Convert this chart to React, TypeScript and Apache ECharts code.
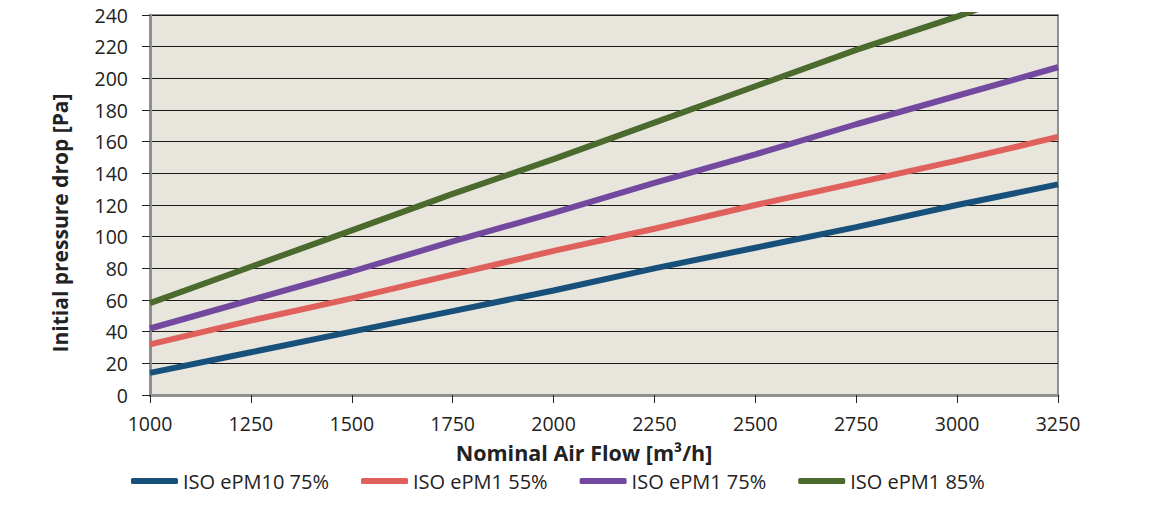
import React, { useEffect, useRef } from "react";
import * as echarts from "echarts";

const airFlow = [1000, 1250, 1500, 1750, 2000, 2250, 2500, 2750, 3000, 3250];
const ePM10_75 = [14, 27, 40, 53, 66, 80, 93, 106, 120, 133];
const ePM1_55 = [32, 47, 61, 76, 91, 105, 120, 134, 148, 163];
const ePM1_75 = [42, 60, 78, 97, 115, 134, 152, 171, 189, 207];
const ePM1_85 = [58, 81, 104, 127, 149, 172, 195, 218, 239, 262];
const seriesNames = ["ISO ePM10 75%", "ISO ePM1 55%", "ISO ePM1 75%", "ISO ePM1 85%"];
const seriesColors = ["#17507a", "#e0605c", "#7349a0", "#4b6a2e"];

const FONT = "'Open Sans', 'Liberation Sans', sans-serif";

export default function App() {
  const ref = useRef<HTMLDivElement>(null);
  useEffect(() => {
    if (!ref.current) return;
    const chart = echarts.init(ref.current, undefined, { renderer: "svg" });
    const datasets = [ePM10_75, ePM1_55, ePM1_75, ePM1_85];
    chart.setOption({
      animation: false,
      backgroundColor: "#ffffff",
      grid: {
        left: 150,
        right: 94,
        top: 15,
        bottom: 115,
        show: true,
        backgroundColor: "#e8e6dc",
        borderColor: "#8f8f8f",
        borderWidth: 2,
      },
      legend: {
        bottom: 14,
        left: 126,
        icon: "roundRect",
        itemWidth: 47,
        itemHeight: 6,
        itemGap: 32,
        textStyle: { fontFamily: FONT, fontSize: 20, color: "#222" },
        data: seriesNames,
      },
      xAxis: {
        type: "value",
        min: 1000,
        max: 3250,
        interval: 250,
        name: "Nominal Air Flow [m³/h]",
        nameLocation: "middle",
        nameGap: 46,
        nameTextStyle: {
          fontFamily: FONT,
          fontSize: 21.5,
          fontWeight: "bold",
          color: "#222",
          padding: [0, 40, 0, 0],
        },
        axisLine: { show: true, lineStyle: { color: "#8f8f8f", width: 3 } },
        axisTick: { show: true, length: 8, lineStyle: { color: "#222" } },
        axisLabel: {
          fontFamily: FONT,
          fontSize: 19.5,
          color: "#222",
          margin: 18,
          formatter: (v: number) => String(v),
        },
        splitLine: { show: false },
      },
      yAxis: {
        type: "value",
        min: 0,
        max: 240,
        interval: 20,
        name: "Initial pressure drop [Pa]",
        nameLocation: "middle",
        nameGap: 80,
        nameRotate: 90,
        nameTextStyle: {
          fontFamily: FONT,
          fontSize: 21,
          fontWeight: "bold",
          color: "#222",
          padding: [0, 36, 0, 0],
        },
        axisLine: { show: true, lineStyle: { color: "#8f8f8f", width: 3 } },
        axisTick: { show: true, length: 8, lineStyle: { color: "#222" } },
        axisLabel: { fontFamily: FONT, fontSize: 19.5, color: "#222", margin: 22 },
        splitLine: { show: true, lineStyle: { color: "#1a1a1a", width: 1 } },
      },
      series: datasets.map((d, i) => ({
        name: seriesNames[i],
        type: "line",
        data: airFlow.map((x, j) => [x, d[j]]),
        showSymbol: false,
        symbol: "none",
        clip: true,
        color: seriesColors[i],
        lineStyle: { width: 6, color: seriesColors[i] },
      })),
    });
    return () => chart.dispose();
  }, []);
  return (
    <div
      ref={ref}
      style={{ position: "absolute", left: 0, top: 0, width: 1152, height: 510 }}
    />
  );
}
